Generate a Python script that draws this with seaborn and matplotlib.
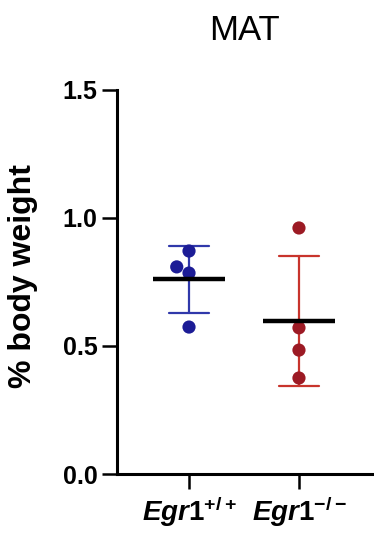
import numpy as np
import pandas as pd
import matplotlib
matplotlib.use("Agg")
import matplotlib.pyplot as plt
import seaborn as sns

# ── Data ──────────────────────────────────────────────────────────────────────
GROUPS = ["Egr1+/+", "Egr1-/-"]
WT_VALUES = [0.871, 0.809, 0.785, 0.574]
KO_VALUES = [0.961, 0.571, 0.484, 0.375]
TICK_LABELS = [r"$\mathit{Egr1}^{\mathit{+/+}}$", r"$\mathit{Egr1}^{\mathit{-/-}}$"]
Y_TICKS = [0.0, 0.5, 1.0, 1.5]
POINT_COLORS = ["#1c1c96", "#9c1a24"]
BAR_COLORS = ["#3038aa", "#c8342c"]

df = pd.DataFrame({
    "group": [GROUPS[0]] * len(WT_VALUES) + [GROUPS[1]] * len(KO_VALUES),
    "value": WT_VALUES + KO_VALUES,
})

sns.set_style("ticks")
plt.rcParams["font.family"] = ["Liberation Sans", "DejaVu Sans"]
plt.rcParams["text.color"] = "black"
plt.rcParams["axes.labelcolor"] = "black"
plt.rcParams["xtick.color"] = "black"
plt.rcParams["ytick.color"] = "black"
plt.rcParams["mathtext.fontset"] = "custom"
plt.rcParams["mathtext.it"] = "Liberation Sans:italic:bold"
plt.rcParams["mathtext.rm"] = "Liberation Sans:bold"
plt.rcParams["mathtext.bf"] = "Liberation Sans:bold"

fig = plt.figure(figsize=(3.74, 5.49), dpi=100)
ax = fig.add_axes([0.3128, 0.1366, 0.6818, 0.6995])

# SD error bars
sns.pointplot(data=df, x="group", y="value", hue="group", order=GROUPS,
              hue_order=GROUPS, palette=BAR_COLORS, errorbar="sd",
              capsize=0.36, linestyle="none", marker="", legend=False,
              err_kws={"linewidth": 1.6, "zorder": 2}, ax=ax)

# Individual animals
sns.swarmplot(data=df, x="group", y="value", hue="group", order=GROUPS,
              hue_order=GROUPS, palette=POINT_COLORS, size=9.5,
              legend=False, zorder=3, ax=ax)

# Mean lines
sns.pointplot(data=df, x="group", y="value", order=GROUPS, color="black",
              errorbar=None, linestyle="none", marker="_", markersize=52,
              markeredgewidth=3.2, ax=ax)
for ln in ax.lines[-1:]:
    ln.set_zorder(4)

ax.set_xlim(-0.655, 1.664)
ax.set_ylim(0, 1.5)
ax.set_yticks(Y_TICKS)
ax.set_yticklabels([f"{t:.1f}" for t in Y_TICKS], fontsize=18, fontweight="bold")
ax.set_xticks([0, 1])
ax.set_xticklabels(TICK_LABELS, fontsize=20)
ax.set_xlabel("")
ax.set_ylabel("% body weight", fontsize=23, fontweight="bold")
ax.yaxis.set_label_coords(-0.31, 0.516)
ax.set_title("MAT", fontsize=25, pad=36, color="black")

sns.despine(ax=ax)
for s in ["left", "bottom"]:
    ax.spines[s].set_linewidth(2.2)
    ax.spines[s].set_color("black")
ax.tick_params(axis="both", length=11, width=1.8, color="black", pad=3)
ax.tick_params(axis="x", pad=4)

fig.savefig("out.png", dpi=100, facecolor="white")
